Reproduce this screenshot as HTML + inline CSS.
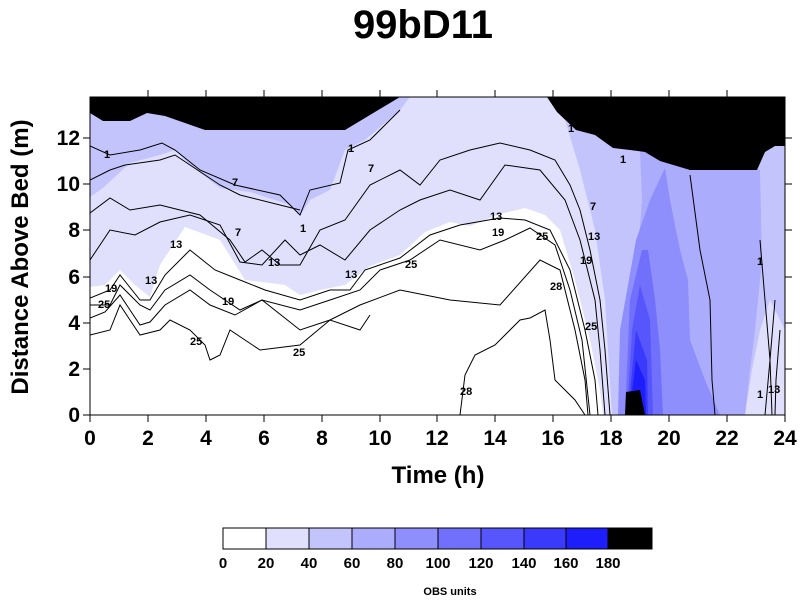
<!DOCTYPE html>
<html><head><style>
body{margin:0;background:#fff;}
svg text{font-family:"Liberation Sans",Arial,sans-serif;}
</style></head><body>
<svg width="800" height="600" viewBox="0 0 800 600" xmlns="http://www.w3.org/2000/svg">
<rect width="800" height="600" fill="#fff"/>
<text x="423" y="38" font-size="40" font-weight="bold" text-anchor="middle">99bD11</text>
<defs><clipPath id="c"><rect x="90" y="97" width="695" height="318"/></clipPath></defs>
<g clip-path="url(#c)">
<rect x="90" y="97" width="695" height="318" fill="#e0e0fc"/>
<polygon fill="#c4c4fc" points="90,100 90,197 103,188 130,163 160,155 175,150 190,165 220,188 250,192 290,205 300,216 310,200 330,190 345,150 365,140 400,110 410,97"/>
<polygon fill="#c4c4fc" points="555,110 565,120 580,170 595,230 605,300 612,415 785,415 785,97"/>
<polygon fill="#e0e0fc" points="770,300 760,330 752,370 745,415 785,415 785,330"/>
<polygon fill="#acacfc" points="640,150 642,200 636,280 626,350 625,415 745,415 750,370 755,330 762,260 760,170"/>
<polygon fill="#8e8efc" points="665,168 650,200 636,240 620,330 618,415 720,415 705,380 690,340 688,280 680,250 670,200"/>
<polygon fill="#7070fc" points="642,250 648,250 655,300 660,350 663,415 625,415 630,300"/>
<polygon fill="#5656fc" points="640,285 650,320 653,415 627,415 632,330"/>
<polygon fill="#3a3afc" points="636,330 647,360 648,415 628,415"/>
<polygon fill="#1e1efc" points="636,360 645,380 646,415 629,415"/>
<polygon fill="#000" points="626,392 640,390 645,415 625,415"/>
<polygon fill="#fff" points="90,287 105,285 120,270 135,285 150,297 160,265 185,227 220,240 245,280 262,282 285,285 300,295 320,290 345,285 370,266 400,255 425,232 450,222 470,226 500,214 525,208 545,215 560,230 575,280 590,340 600,390 603,415 90,415"/>
<polygon fill="#000" points="90,97 90,113 103,121 130,121 147,113 165,116 205,130 345,130 400,97"/>
<polygon fill="#000" points="547,97 557,112 576,130 595,135 613,148 630,150 645,152 660,161 690,170 757,170 765,152 775,146 785,146 785,97"/>
<g fill="none" stroke="#000" stroke-width="1">
<polyline points="90,146 110,155 140,150 162,143 175,150 200,170 235,185 280,195 300,215 310,190 340,183 348,150 370,140 400,110"/>
<polyline points="90,180 110,170 125,165 160,160 175,155 220,185 240,195 300,210"/>
<polyline points="90,213 110,198 130,210 160,205 200,215 230,240 245,262 262,250 280,265 300,265 320,230 345,220 370,185 400,170 420,185 440,160 470,150 500,143 530,150 555,160 570,185 580,210 590,250 600,300 605,350 610,415"/>
<polyline points="90,260 110,230 135,235 160,222 190,215 220,225 240,262 262,265 285,240 300,255 320,245 345,260 370,230 400,210 420,200 450,190 480,200 505,165 540,170 565,200 580,240 595,300 600,350 605,415"/>
<polyline points="90,298 110,290 120,275 140,300 150,300 165,275 190,250 215,270 240,280 265,290 300,300 330,290 350,290 365,270 400,258 430,235 460,225 500,218 525,220 550,230 570,270 585,330 595,380 598,415"/>
<polyline points="90,305 110,305 120,285 140,305 150,310 165,290 190,275 210,290 240,310 262,300 300,310 330,300 360,290 380,270 410,260 440,240 480,250 505,240 530,228 555,245 570,290 582,340 590,415"/>
<polyline points="90,318 105,312 120,295 140,325 150,322 165,305 190,290 210,305 235,315 262,300 300,330 330,320 360,305 400,290 450,300 500,305 540,260 560,270 575,330 585,380 588,415"/>
<polyline points="90,335 110,330 120,305 140,335 160,330 170,320 190,330 205,345 210,360 220,355 230,330 260,350 300,345 330,320 360,330 370,315"/>
<polyline points="460,415 465,375 475,355 495,345 520,320 530,318 545,310 550,340 555,380 575,400 585,415"/>
<polyline points="690,175 700,250 710,300 712,380 715,415"/>
<polyline points="760,240 765,300 770,360 772,415"/>
<polyline points="775,300 770,360 765,415"/>
<polyline points="780,330 776,380 775,415"/>
</g>
</g>
<g font-size="11" font-weight="bold">
<text x="104" y="158">1</text><text x="232" y="186">7</text><text x="368" y="172">7</text>
<text x="348" y="152">1</text><text x="235" y="236">7</text><text x="300" y="232">1</text>
<text x="490" y="220">13</text><text x="492" y="236">19</text><text x="536" y="240">25</text>
<text x="170" y="248">13</text><text x="145" y="284">13</text><text x="105" y="292">19</text>
<text x="98" y="308">25</text><text x="222" y="305">19</text><text x="190" y="345">25</text>
<text x="293" y="356">25</text><text x="268" y="266">13</text><text x="345" y="278">13</text>
<text x="405" y="268">25</text><text x="550" y="290">28</text><text x="460" y="395">28</text>
<text x="585" y="330">25</text><text x="580" y="264">19</text><text x="588" y="240">13</text>
<text x="568" y="132">1</text><text x="620" y="163">1</text><text x="590" y="210">7</text>
<text x="757" y="265">1</text><text x="757" y="398">1</text><text x="768" y="393">13</text>
</g>
<rect x="90" y="97" width="695" height="318" fill="none" stroke="#000" stroke-width="1"/>
<g stroke="#000" stroke-width="1">
<path d="M90,415v7M148,415v7M206,415v7M264,415v7M322,415v7M380,415v7M437,415v7M495,415v7M553,415v7M611,415v7M669,415v7M727,415v7M785,415v7"/>
<path d="M148,97v-7M206,97v-7M264,97v-7M322,97v-7M380,97v-7M437,97v-7M495,97v-7M553,97v-7M611,97v-7M669,97v-7M727,97v-7"/>
<path d="M83,415h7M83,369h7M83,323h7M83,277h7M83,230h7M83,184h7M83,138h7"/>
<path d="M785,369h7M785,323h7M785,277h7M785,230h7M785,184h7M785,138h7"/>
</g>
<g font-size="21" font-weight="bold" text-anchor="middle">
<text x="90" y="445">0</text><text x="148" y="445">2</text><text x="206" y="445">4</text><text x="264" y="445">6</text><text x="322" y="445">8</text><text x="380" y="445">10</text><text x="437" y="445">12</text><text x="495" y="445">14</text><text x="553" y="445">16</text><text x="611" y="445">18</text><text x="669" y="445">20</text><text x="727" y="445">22</text><text x="785" y="445">24</text>
</g>
<g font-size="21" font-weight="bold" text-anchor="end">
<text x="80" y="422">0</text><text x="80" y="376">2</text><text x="80" y="330">4</text><text x="80" y="284">6</text><text x="80" y="237">8</text><text x="80" y="191">10</text><text x="80" y="145">12</text>
</g>
<text x="438" y="483" font-size="24" font-weight="bold" text-anchor="middle">Time (h)</text>
<text transform="translate(28,257) rotate(-90)" font-size="24" font-weight="bold" text-anchor="middle">Distance Above Bed (m)</text>
<g stroke="#000" stroke-width="1">
<rect x="223" y="528" width="43" height="21" fill="#fff"/>
<rect x="266" y="528" width="43" height="21" fill="#e0e0fc"/>
<rect x="309" y="528" width="43" height="21" fill="#c4c4fc"/>
<rect x="352" y="528" width="43" height="21" fill="#acacfc"/>
<rect x="395" y="528" width="43" height="21" fill="#8e8efc"/>
<rect x="438" y="528" width="43" height="21" fill="#7070fc"/>
<rect x="481" y="528" width="43" height="21" fill="#5656fc"/>
<rect x="524" y="528" width="42" height="21" fill="#3a3afc"/>
<rect x="566" y="528" width="42" height="21" fill="#1e1efc"/>
<rect x="608" y="528" width="44" height="21" fill="#000"/>
</g>
<g font-size="15" font-weight="bold" text-anchor="middle">
<text x="223" y="568">0</text><text x="266" y="568">20</text><text x="309" y="568">40</text><text x="352" y="568">60</text><text x="395" y="568">80</text><text x="438" y="568">100</text><text x="481" y="568">120</text><text x="524" y="568">140</text><text x="566" y="568">160</text><text x="608" y="568">180</text>
</g>
<text x="450" y="595" font-size="11" font-weight="bold" text-anchor="middle">OBS units</text>
</svg>
</body></html>
